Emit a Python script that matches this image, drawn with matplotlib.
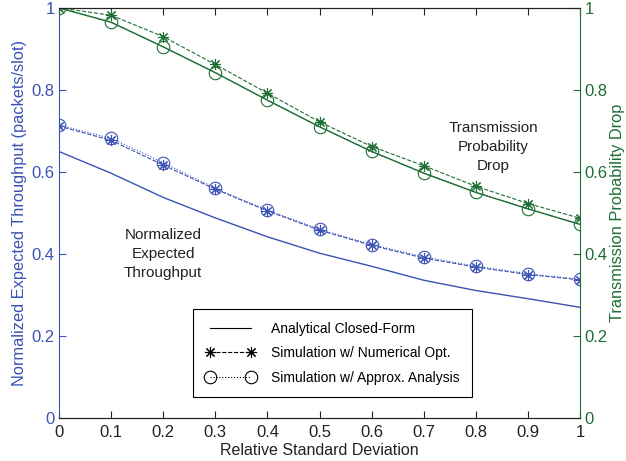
import numpy as np
import matplotlib
matplotlib.use('Agg')
import matplotlib.pyplot as plt
from matplotlib.lines import Line2D

plt.rcParams['font.family'] = ['Liberation Sans', 'DejaVu Sans']

# Data
rsd = np.array([0, 0.1, 0.2, 0.3, 0.4, 0.5, 0.6, 0.7, 0.8, 0.9, 1.0])

thr_closed = np.array([0.65, 0.597, 0.538, 0.488, 0.442, 0.402, 0.370, 0.336, 0.311, 0.291, 0.270])
thr_numopt = np.array([0.712, 0.677, 0.617, 0.558, 0.505, 0.458, 0.421, 0.390, 0.368, 0.350, 0.337])
thr_approx = np.array([0.714, 0.682, 0.623, 0.560, 0.507, 0.460, 0.423, 0.393, 0.370, 0.352, 0.338])

drop_closed = np.array([1.0, 0.965, 0.905, 0.842, 0.775, 0.710, 0.650, 0.597, 0.550, 0.510, 0.472])
drop_numopt = np.array([1.0, 0.982, 0.930, 0.862, 0.792, 0.722, 0.662, 0.615, 0.565, 0.523, 0.487])
drop_approx = np.array([1.0, 0.965, 0.905, 0.842, 0.775, 0.710, 0.650, 0.597, 0.550, 0.510, 0.472])

blue = '#3a52b4'
green = '#1d6e35'
star = (8, 2, 0)

fig = plt.figure(figsize=(6.26, 4.61), dpi=100)
ax = fig.add_axes([0.094, 0.093, 0.833, 0.89])
ax2 = ax.twinx()

ax.plot(rsd, thr_closed, '-', color=blue, lw=1)
ax.plot(rsd, thr_numopt, '--', color=blue, lw=0.8, marker=star, ms=8, mew=0.8)
ax.plot(rsd, thr_approx, ':', color=blue, lw=0.8, marker='o', ms=9, mfc='none', mew=0.8)

ax2.plot(rsd, drop_closed, '-', color=green, lw=1)
ax2.plot(rsd, drop_numopt, '--', color=green, lw=0.8, marker=star, ms=8, mew=0.8)
ax2.plot(rsd, drop_approx, ':', color=green, lw=0.8, marker='o', ms=9, mfc='none', mew=0.8)

ticks = [0, 0.2, 0.4, 0.6, 0.8, 1]
labels = ['0', '0.2', '0.4', '0.6', '0.8', '1']
for a, c in ((ax, blue), (ax2, green)):
    a.set_xlim(0, 1)
    a.set_ylim(0, 1)
    a.set_yticks(ticks)
    a.set_yticklabels(labels)
    a.tick_params(axis='y', colors=c, direction='in', labelsize=12, length=5, pad=3)
ax.set_xticks(rsd)
ax.set_xticklabels(['0', '0.1', '0.2', '0.3', '0.4', '0.5', '0.6', '0.7', '0.8', '0.9', '1'])
ax.tick_params(axis='x', direction='in', labelsize=12, length=5, top=True, colors='#222222', pad=5)

ax.spines['left'].set_color(blue)
ax2.spines['left'].set_visible(False)
ax2.spines['right'].set_color(green)
ax.spines['right'].set_visible(False)
for s in ('top', 'bottom'):
    ax.spines[s].set_color('#222222')
    ax2.spines[s].set_color('#222222')

ax.set_xlabel('Relative Standard Deviation', fontsize=11.5, color='#222222', labelpad=2)
ax.set_ylabel('Normalized Expected Throughput (packets/slot)', fontsize=11.8, color=blue, labelpad=3)
ax2.set_ylabel('Transmission Probability Drop', fontsize=11.8, color=green, labelpad=2)

ax.text(0.2, 0.40, 'Normalized\nExpected\nThroughput', ha='center', va='center',
        fontsize=11, color='#222222', linespacing=1.45)
ax2.text(0.833, 0.66, 'Transmission\nProbability\nDrop', ha='center', va='center',
         fontsize=11, color='#222222', linespacing=1.45)

handles = [
    Line2D([], [], color='k', ls='-', lw=0.8),
    Line2D([], [], color='k', ls='--', lw=0.8, marker=star, ms=8, mew=0.8),
    Line2D([], [], color='k', ls=':', lw=0.8, marker='o', ms=9, mfc='none', mew=0.8),
]
leg = ax2.legend(handles, ['Analytical Closed-Form', 'Simulation w/ Numerical Opt.',
                           'Simulation w/ Approx. Analysis'],
                 loc='lower left', bbox_to_anchor=(0.257, 0.051), borderaxespad=0,
                 fontsize=10, fancybox=False, framealpha=1, edgecolor='k', numpoints=2,
                 handlelength=3.6, borderpad=0.9, labelspacing=0.75, handletextpad=1.1)
leg.get_frame().set_linewidth(0.8)

fig.savefig('out.png', dpi=100)
